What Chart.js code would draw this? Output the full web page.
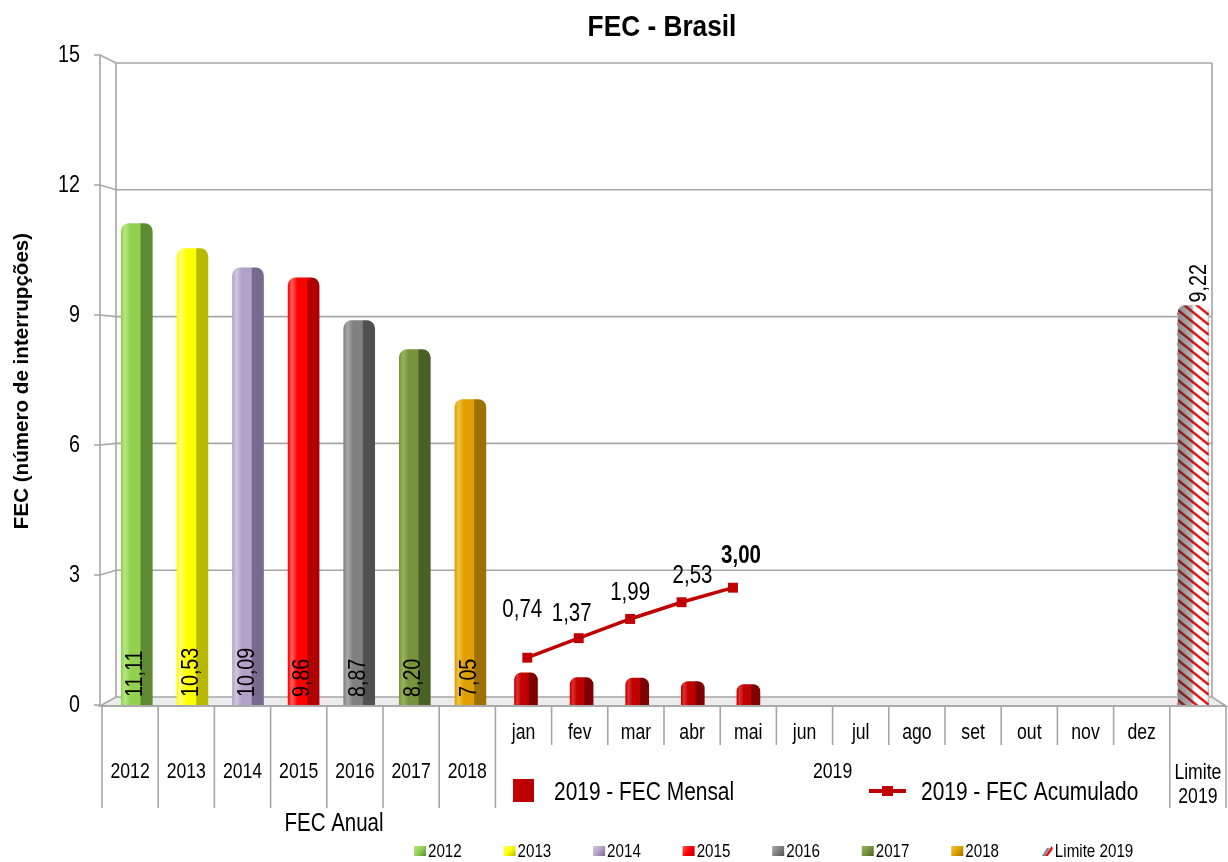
<!DOCTYPE html>
<html><head><meta charset="utf-8">
<script src="https://cdn.jsdelivr.net/npm/chart.js@4.4.1/dist/chart.umd.min.js"></script>
<style>html,body{margin:0;padding:0;background:#fff;}#wrap{width:1228px;height:862px;}</style>
</head><body><div id="wrap"><canvas id="c" width="1228" height="862"></canvas></div>
<script>
// ---------- data ----------
const chartTitle = 'FEC - Brasil';
const yAxisTitle = 'FEC (número de interrupções)';
const years = ['2012','2013','2014','2015','2016','2017','2018'];
const months = ['jan','fev','mar','abr','mai','jun','jul','ago','set','out','nov','dez'];
const limitLines = ['Limite', '2019'];
const limitLegend = 'Limite 2019';
const annualValues = [11.11, 10.53, 10.09, 9.86, 8.87, 8.20, 7.05];
const limitValue = 9.22;
const monthlyValues = [0.74, 0.63, 0.62, 0.54, 0.47];
const accumulatedValues = [0.74, 1.37, 1.99, 2.53, 3.00];
const yTickValues = [0, 3, 6, 9, 12, 15];
const groupAnnual = 'FEC Anual';
const group2019 = '2019';
const seriesMensal = '2019 - FEC Mensal';
const seriesAcum = '2019 - FEC Acumulado';

// ---------- styles ----------
const annualColors = [
  ['#B5E880','#92D050','#5E8A32'],
  ['#FFFF80','#FFFF00','#B8B800'],
  ['#D2C6E0','#B3A2C7','#786A8E'],
  ['#FF6060','#FF0000','#B00000'],
  ['#A8A8A8','#808080','#505050'],
  ['#98B45C','#77933C','#4B6024'],
  ['#F0C040','#DDA000','#9E7000']
];
const monthlyColor = ['#E03030','#C00000','#7E0000'];
const lineColor = '#C00000';
const gridColor = '#A6A6A6';
const FONT = "'Liberation Sans',Arial,sans-serif";
const NARROW = 0.82;
Chart.defaults.font.family = FONT;
Chart.defaults.color = '#000';

const categories = [...years, ...months, limitLegend];
const annualData = [...annualValues, ...months.map(() => null), limitValue];
const monthlyData = [...years.map(() => null), ...monthlyValues,
  ...months.slice(monthlyValues.length).map(() => null), null];
const accData = accumulatedValues.map((v, i) => ({ x: years.length + i, y: v }));
const fmt = v => v.toFixed(2).replace('.', ',');

// narrow text (Arial-Narrow look) drawn as real canvas text
function nText(c, s, x, y, size, opt = {}) {
  c.save();
  c.translate(x, y);
  if (opt.rot) c.rotate(opt.rot);
  c.scale(opt.sx || NARROW, 1);
  c.font = (opt.bold ? 'bold ' : '') + size + 'px ' + FONT;
  c.textAlign = opt.align || 'center';
  c.textBaseline = opt.base || 'middle';
  c.fillStyle = opt.color || '#000';
  c.fillText(s, 0, 0);
  c.restore();
}
function nWidth(c, s, size) {
  c.save(); c.font = size + 'px ' + FONT; const w = c.measureText(s).width * NARROW; c.restore(); return w;
}

function limitPattern(c, x0, w) {
  const h = 10;
  const tile = document.createElement('canvas');
  tile.width = w; tile.height = h;
  const t = tile.getContext('2d');
  t.fillStyle = '#fff'; t.fillRect(0, 0, w, h);
  t.strokeStyle = '#E41010'; t.lineWidth = 2.4;
  for (let k = -5; k <= 2; k++) {
    t.beginPath(); t.moveTo(0, k * h); t.lineTo(w, k * h + w * 0.8); t.stroke();
  }
  const g = t.createLinearGradient(0, 0, w, 0);
  g.addColorStop(0, 'rgba(40,40,40,0.55)');
  g.addColorStop(0.45, 'rgba(40,40,40,0.35)');
  g.addColorStop(0.52, 'rgba(0,0,0,0)');
  g.addColorStop(0.9, 'rgba(0,0,0,0)');
  g.addColorStop(1, 'rgba(0,0,0,0.15)');
  t.fillStyle = g; t.fillRect(0, 0, w, h);
  const p = c.createPattern(tile, 'repeat');
  p.setTransform(new DOMMatrix([1, 0, 0, 1, x0, 0]));
  return p;
}

function cylGradient(c, x0, w, cols) {
  const g = c.createLinearGradient(x0, 0, x0 + w, 0);
  g.addColorStop(0, cols[1]);
  g.addColorStop(0.12, cols[0]);
  g.addColorStop(0.3, cols[1]);
  g.addColorStop(0.6, cols[1]);
  g.addColorStop(0.64, cols[2]);
  g.addColorStop(1, cols[2]);
  return g;
}

function barFill(ctx) {
  const fallback = monthlyColor[1];
  if (ctx.type !== 'data') return fallback;
  const chart = ctx.chart;
  const i = ctx.dataIndex;
  const w = ctx.dataset.barThickness;
  const xs = chart.scales && chart.scales.x;
  if (!xs) return fallback;
  const cx = xs.getPixelForValue(i);
  if (!isFinite(cx) || !isFinite(w)) return fallback;
  if (ctx.datasetIndex === 1 && i === categories.length - 1) return limitPattern(chart.ctx, cx - w / 2, w);
  const cols = ctx.datasetIndex === 1 ? annualColors[i] : monthlyColor;
  if (!cols) return fallback;
  return cylGradient(chart.ctx, cx - w / 2, w, cols);
}

// 3D frame geometry relative to the chart area
const frame = ca => ({ fl: ca.left - 9, bl: ca.left + 7, br: ca.right - 9, fr: ca.right + 5 });

const deco = {
  id: 'deco',
  beforeDatasetsDraw(chart) {
    const c = chart.ctx, ca = chart.chartArea, ys = chart.scales.y;
    const { fl, bl, br, fr } = frame(ca);
    const yb = ys.getPixelForValue(0);
    const backY = v => ys.getPixelForValue(v) - 8 + 16 * (v - ys.min) / (ys.max - ys.min);
    c.save();
    c.strokeStyle = gridColor; c.lineWidth = 1.6;
    c.fillStyle = '#ECECEC';
    c.beginPath(); c.moveTo(fl, yb + 1); c.lineTo(bl, yb - 8); c.lineTo(br, yb - 8); c.lineTo(fr, yb + 1); c.closePath();
    c.fill(); c.stroke();
    c.beginPath();
    c.moveTo(bl, backY(ys.max)); c.lineTo(bl, yb - 8);
    c.moveTo(br, backY(ys.max)); c.lineTo(br, yb - 8);
    c.stroke();
    yTickValues.forEach(v => {
      const y = ys.getPixelForValue(v);
      c.beginPath();
      c.moveTo(fl - 6, y); c.lineTo(fl, y);
      if (v > 0) { c.lineTo(bl, backY(v)); c.lineTo(br, backY(v)); }
      c.stroke();
      nText(c, String(v), fl - 20, y, 24, { align: 'right' });
    });
    c.beginPath(); c.moveTo(fl, ys.getPixelForValue(ys.max)); c.lineTo(fl, yb + 1); c.stroke();
    c.save();
    c.translate(22, (ca.top + ca.bottom) / 2 + 1);
    c.rotate(-Math.PI / 2);
    c.font = 'bold 20.6px ' + FONT; c.textAlign = 'center'; c.textBaseline = 'middle'; c.fillStyle = '#000';
    c.fillText(yAxisTitle, 0, 0);
    c.restore();
    c.restore();
  },
  afterDatasetsDraw(chart) {
    const c = chart.ctx, ca = chart.chartArea, ys = chart.scales.y;
    const { fl, fr } = frame(ca);
    const yb = ys.getPixelForValue(0);
    c.save();
    const meta = chart.getDatasetMeta(1);
    meta.data.forEach((el, i) => {
      const v = annualData[i];
      if (v == null) return;
      if (i === categories.length - 1)
        nText(c, fmt(v), el.x + 6, el.y - 3, 24, { rot: -Math.PI / 2, align: 'left' });
      else
        nText(c, fmt(v), el.x - 1, yb - 8, 24, { rot: -Math.PI / 2, align: 'left' });
    });
    const lm = chart.getDatasetMeta(0);
    const offs = chart.options.plugins.deco.pointLabelOffsets;
    lm.data.forEach((el, i) => {
      const last = i === accumulatedValues.length - 1;
      const o = offs[i] || [0, -27];
      nText(c, fmt(accumulatedValues[i]), el.x + o[0], el.y + o[1], 25, { bold: last });
    });
    // category axis (front edge of the floor)
    c.strokeStyle = gridColor; c.lineWidth = 1.6;
    const n = categories.length;
    const sep = k => fl + 2 + k * (fr - fl - 2) / n;
    const mid = k => (sep(k) + sep(k + 1)) / 2;
    const axY = yb + 1;
    c.beginPath(); c.moveTo(fl, axY); c.lineTo(fr, axY); c.stroke();
    for (let k = 0; k <= n; k++) {
      const inner = k > years.length && k < years.length + months.length;
      c.beginPath(); c.moveTo(sep(k), axY); c.lineTo(sep(k), inner ? 745 : 808); c.stroke();
    }
    months.forEach((m, i) => nText(c, m, mid(years.length + i), 733, 21.5));
    years.forEach((y, i) => nText(c, y, mid(i), 772, 21.5));
    nText(c, group2019, (sep(years.length) + sep(years.length + months.length)) / 2, 772, 21.5);
    nText(c, limitLines[0], mid(n - 1), 773, 21.5);
    nText(c, limitLines[1], mid(n - 1), 797, 21.5);
    nText(c, groupAnnual, 334, 824, 25);
    // inner legend
    const g = c.createLinearGradient(513, 0, 534, 0);
    g.addColorStop(0, '#C80000'); g.addColorStop(1, '#B40000');
    c.fillStyle = g; c.fillRect(513, 779, 21, 23);
    nText(c, seriesMensal, 554, 793, 25.5, { align: 'left' });
    c.strokeStyle = lineColor; c.lineWidth = 4;
    c.beginPath(); c.moveTo(869, 791); c.lineTo(906, 791); c.stroke();
    c.fillStyle = lineColor; c.fillRect(882, 786, 11, 10);
    nText(c, seriesAcum, 921, 793, 25.5, { align: 'left' });
    // bottom legend
    let x = 414;
    const items = [...years, limitLegend];
    items.forEach((lab, i) => {
      if (i < years.length) {
        const cols = annualColors[i];
        const gg = c.createLinearGradient(x, 846, x + 12, 856);
        gg.addColorStop(0, cols[0]); gg.addColorStop(0.5, cols[1]); gg.addColorStop(1, cols[2]);
        c.fillStyle = gg; c.fillRect(x, 846, 12, 10);
      } else {
        c.fillStyle = '#E41010';
        c.beginPath(); c.moveTo(x + 4, 856); c.lineTo(x + 11, 846); c.lineTo(x + 12, 849); c.lineTo(x + 7, 856); c.closePath(); c.fill();
        c.fillStyle = '#8A8A8A';
        c.beginPath(); c.moveTo(x + 1, 856); c.lineTo(x + 4, 856); c.lineTo(x + 9, 848); c.lineTo(x + 6, 848); c.closePath(); c.fill();
      }
      nText(c, lab, x + 14, 852, 18.5, { align: 'left' });
      x += 14 + nWidth(c, lab, 18.5) + 41.8;
    });
    nText(c, chartTitle, 662, 28, 29.5, { bold: true, sx: 0.89 });
    c.restore();
  }
};

new Chart(document.getElementById('c'), {
  type: 'bar',
  data: {
    labels: categories,
    datasets: [
      { type: 'line', label: seriesAcum, data: accData, xAxisID: 'x2', yAxisID: 'y2',
        borderColor: lineColor, backgroundColor: lineColor, borderWidth: 3.5,
        pointStyle: 'rect', pointRadius: 7, pointBorderWidth: 0, order: 0 },
      { label: groupAnnual, data: annualData, backgroundColor: barFill, barThickness: 31,
        borderRadius: { topLeft: 8, topRight: 8 }, borderSkipped: 'bottom', grouped: false, order: 1 },
      { label: seriesMensal, data: monthlyData, backgroundColor: barFill, barThickness: 23,
        borderRadius: { topLeft: 7, topRight: 7 }, borderSkipped: 'bottom', grouped: false, order: 1 }
    ]
  },
  options: {
    responsive: false, animation: false, devicePixelRatio: 1,
    layout: { padding: { top: 55, bottom: 157, left: 0, right: 7 } },
    plugins: {
      legend: { display: false }, title: { display: false }, tooltip: { enabled: false },
      deco: { pointLabelOffsets: [[-5, -48], [-7, -24], [0, -26], [11, -26], [8, -32]] }
    },
    scales: {
      x: { type: 'category', display: false, offset: true },
      x2: { type: 'linear', display: false, offset: false, min: -1.134, max: 20.49 },
      y: {
        min: 0, max: 15,
        afterBuildTicks: s => { s.ticks = yTickValues.map(v => ({ value: v })); },
        afterFit: s => { s.width = 109; },
        grid: { display: false }, border: { display: false },
        ticks: { display: false },
        title: { display: false }
      },
      y2: { display: false, min: -0.788, max: 20.2 }
    }
  },
  plugins: [deco]
});
</script></body></html>
